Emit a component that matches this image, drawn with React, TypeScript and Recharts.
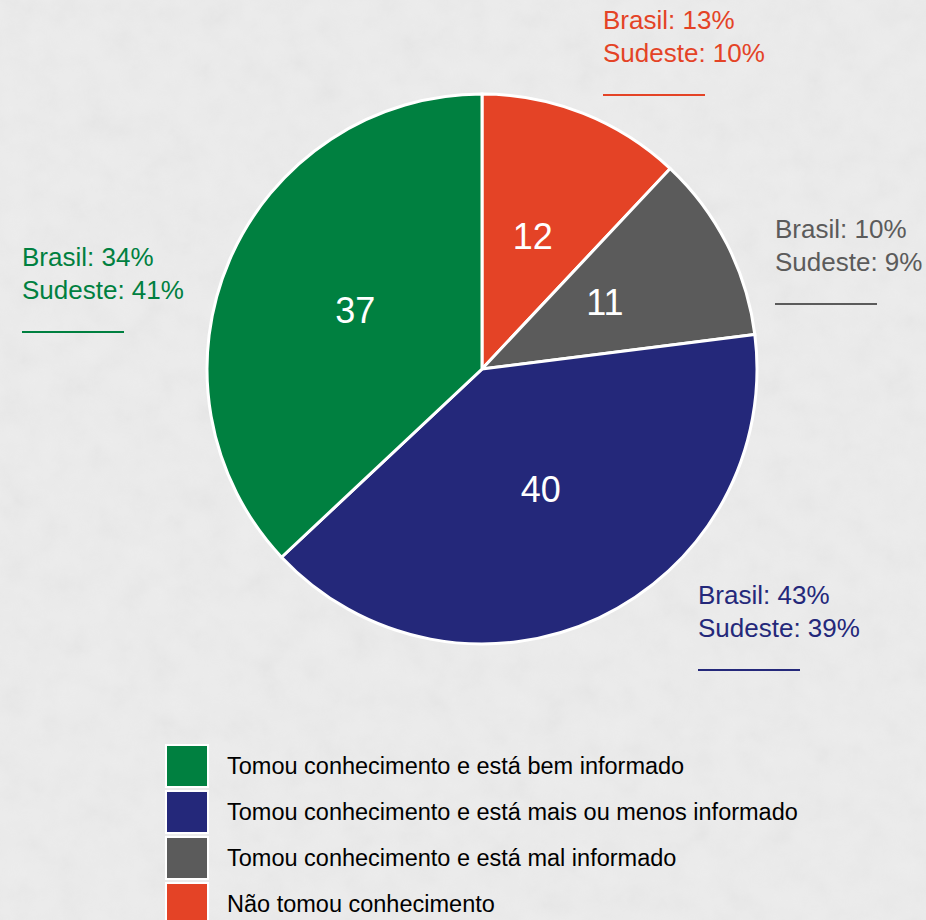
import { PieChart, Pie, Cell, Legend } from 'recharts'

const categories = [
  'Não tomou conhecimento',
  'Tomou conhecimento e está mal informado',
  'Tomou conhecimento e está mais ou menos informado',
  'Tomou conhecimento e está bem informado',
]
const values = [12, 11, 40, 37]
const brasil = [13, 10, 43, 34]
const sudeste = [10, 9, 39, 41]
const colors = ['#e44326', '#5b5b5b', '#24287a', '#008040']
const legendOrder = [3, 2, 1, 0]

const FONT = 'Arial, "Liberation Sans", sans-serif'

// where the Brasil / Sudeste notes sit: red, gray, green, blue
const notePos = [
  { left: 603, top: 4 },
  { left: 775, top: 213 },
  { left: 22, top: 241 },
  { left: 698, top: 579 },
]
const noteIndex = [0, 1, 3, 2]

const RAD = Math.PI / 180

const renderLabel = (props: any) => {
  const { cx, cy, midAngle, value } = props
  const r = 138
  const x = cx + r * Math.cos(-midAngle * RAD)
  const y = cy + r * Math.sin(-midAngle * RAD) - 4
  return (
    <text
      x={x}
      y={y}
      fill="#ffffff"
      fontSize={36}
      fontFamily={FONT}
      textAnchor="middle"
      dominantBaseline="central"
    >
      {value}
    </text>
  )
}

const renderLegend = () => (
  <div style={{ fontFamily: FONT }}>
    {legendOrder.map((i) => (
      <div key={i} style={{ display: 'flex', alignItems: 'center', height: 46 }}>
        <div
          style={{
            width: 40,
            height: 40,
            background: colors[i],
            border: '2px solid #ffffff',
            marginRight: 18,
          }}
        />
        <span style={{ fontSize: 23.5, color: '#000000' }}>{categories[i]}</span>
      </div>
    ))}
  </div>
)

export default function App() {
  const data = categories.map((name, i) => ({ name, value: values[i] }))
  return (
    <div
      style={{
        position: 'absolute',
        left: 0,
        top: 0,
        width: 926,
        height: 920,
        background: '#ececec',
        overflow: 'hidden',
      }}
    >
      <svg width={926} height={920} style={{ position: 'absolute', left: 0, top: 0 }}>
        <filter id="grain">
          <feTurbulence type="fractalNoise" baseFrequency="0.035" numOctaves={4} seed={3} />
          <feColorMatrix type="saturate" values="0" />
        </filter>
        <rect width={926} height={920} filter="url(#grain)" opacity={0.08} />
      </svg>
      <div style={{ position: 'absolute', left: 0, top: 0 }}>
        <PieChart width={926} height={920} margin={{ top: 0, right: 0, bottom: 0, left: 0 }}>
          <Pie
            data={data}
            dataKey="value"
            nameKey="name"
            cx={482}
            cy={369}
            outerRadius={275}
            startAngle={90}
            endAngle={-270}
            stroke="#ffffff"
            strokeWidth={3}
            label={renderLabel}
            labelLine={false}
            isAnimationActive={false}
          >
            {data.map((d, i) => (
              <Cell key={d.name} fill={colors[i]} />
            ))}
          </Pie>
          <Legend
            content={renderLegend}
            wrapperStyle={{ position: 'absolute', left: 165, top: 743, width: 740 }}
          />
        </PieChart>
      </div>
      {notePos.map((p, k) => {
        const i = noteIndex[k]
        return (
          <div
            key={k}
            style={{
              position: 'absolute',
              left: p.left,
              top: p.top,
              color: colors[i],
              fontFamily: FONT,
              fontSize: 26,
              lineHeight: '33px',
            }}
          >
            <div>Brasil: {brasil[i]}%</div>
            <div>Sudeste: {sudeste[i]}%</div>
            <div style={{ width: 102, borderTop: `2px solid ${colors[i]}`, marginTop: 24 }} />
          </div>
        )
      })}
    </div>
  )
}
